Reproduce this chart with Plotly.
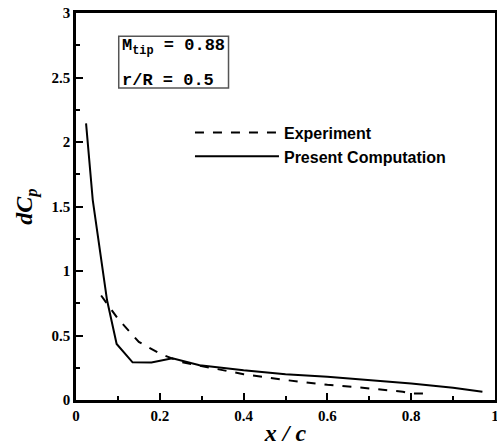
import plotly.graph_objects as go

# Experiment (dashed)
exp_x = [0.06, 0.10, 0.15, 0.20, 0.25, 0.30, 0.40, 0.50, 0.60, 0.70, 0.78, 0.80, 0.83]
exp_y = [0.81, 0.63, 0.45, 0.36, 0.295, 0.262, 0.20, 0.155, 0.118, 0.09, 0.064, 0.05, 0.05]

# Present Computation (solid)
comp_x = [0.024, 0.04, 0.074, 0.097, 0.135, 0.18, 0.23, 0.295, 0.40, 0.50, 0.60, 0.70, 0.80, 0.90, 0.97]
comp_y = [2.145, 1.55, 0.775, 0.434, 0.292, 0.29, 0.323, 0.27, 0.23, 0.20, 0.18, 0.155, 0.128, 0.095, 0.064]

x_ticks = [0, 0.2, 0.4, 0.6, 0.8, 1]
x_tick_labels = ["0", "0.2", "0.4", "0.6", "0.8", "1"]
y_ticks = [0, 0.5, 1, 1.5, 2, 2.5, 3]
y_tick_labels = ["0", "0.5", "1", "1.5", "2", "2.5", "3"]

fig = go.Figure()
fig.add_trace(go.Scatter(x=exp_x, y=exp_y, mode="lines", name="Experiment",
                         line=dict(color="black", width=2, dash="dash")))
fig.add_trace(go.Scatter(x=comp_x, y=comp_y, mode="lines", name="Present Computation",
                         line=dict(color="black", width=2)))

tickfont = dict(family="Liberation Serif", size=15, color="black", weight="bold")
fig.update_layout(
    width=497, height=447,
    margin=dict(l=76, r=2, t=13, b=47, autoexpand=False),
    paper_bgcolor="white", plot_bgcolor="white",
    showlegend=True,
    legend=dict(x=0.272, y=0.735, xanchor="left", yanchor="top",
                font=dict(family="Liberation Sans", size=16, color="black", weight="bold"),
                bgcolor="rgba(0,0,0,0)", itemwidth=84, tracegroupgap=0),
    xaxis=dict(range=[0, 1], tickvals=x_ticks, ticktext=x_tick_labels,
               ticks="inside", ticklen=7, tickwidth=2, tickcolor="black",
               minor=dict(dtick=0.1, ticks="inside", ticklen=4, tickwidth=1.5, tickcolor="black"),
               showline=True, linewidth=2.5, linecolor="black", mirror=True,
               showgrid=False, zeroline=False, tickfont=tickfont, ticklabeloverflow="allow",
               title=dict(text="<b><i>x / c</i></b>",
                          font=dict(family="Liberation Serif", size=24, color="black"),
                          standoff=2)),
    yaxis=dict(range=[0, 3], tickvals=y_ticks, ticktext=y_tick_labels,
               ticks="inside", ticklen=7, tickwidth=2, tickcolor="black",
               minor=dict(dtick=0.25, ticks="inside", ticklen=4, tickwidth=1.5, tickcolor="black"),
               showline=True, linewidth=2.5, linecolor="black", mirror=True,
               showgrid=False, zeroline=False, tickfont=tickfont, ticklabeloverflow="allow",
               title=dict(text="<b><i>dC<sub>p</sub></i></b>",
                          font=dict(family="Liberation Serif", size=24, color="black"),
                          standoff=13)),
)

# Parameter box
fig.add_shape(type="rect", xref="paper", yref="paper",
              x0=0.102, x1=0.364, y0=0.806, y1=0.94,
              line=dict(color="#555555", width=1.5), fillcolor="white")
boxfont = dict(family="Liberation Mono", size=17, color="black", weight="bold")
fig.add_annotation(xref="paper", yref="paper", x=0.106, y=0.911, xanchor="left", yanchor="middle",
                   text="M<sub>tip</sub> = 0.88", showarrow=False, font=boxfont)
fig.add_annotation(xref="paper", yref="paper", x=0.106, y=0.826, xanchor="left", yanchor="middle",
                   text="r/R = 0.5", showarrow=False, font=boxfont)

fig.write_html("out.html", config={"displayModeBar": False},
               post_script="document.body.style.margin='0';document.body.style.overflow='hidden';")
